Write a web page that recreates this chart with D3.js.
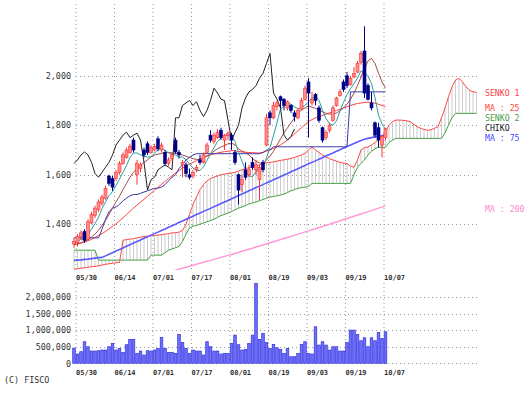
<!DOCTYPE html>
<html>
<head>
<meta charset="utf-8">
<script src="https://cdn.jsdelivr.net/npm/d3@7"></script>
<style>
  body { margin: 0; background: #fff; }
  text { font-family: "DejaVu Sans Mono", monospace; }
</style>
</head>
<body>
<script>
// trading days, 05/29 .. 10/07
const dates = ["05/29","05/30","05/31","06/03","06/04","06/05","06/06","06/07","06/10","06/11","06/12","06/13","06/14","06/17","06/18","06/19","06/20","06/21","06/24","06/25","06/26","06/27","06/28","07/01","07/02","07/03","07/04","07/05","07/08","07/09","07/10","07/11","07/12","07/16","07/17","07/18","07/19","07/22","07/23","07/24","07/25","07/26","07/29","07/30","07/31","08/01","08/02","08/05","08/06","08/07","08/08","08/09","08/13","08/14","08/15","08/16","08/19","08/20","08/21","08/22","08/23","08/26","08/27","08/28","08/29","08/30","09/02","09/03","09/04","09/05","09/06","09/09","09/10","09/11","09/12","09/13","09/17","09/18","09/19","09/20","09/24","09/25","09/26","09/27","09/30","10/01","10/02","10/03","10/04","10/07"];
const tickDays = ["05/30","06/14","07/01","07/17","08/01","08/19","09/03","09/19","10/07"];

const openP = [1320,1325,1350,1370,1340,1405,1435,1460,1485,1505,1595,1585,1585,1610,1645,1670,1690,1740,1600,1625,1700,1725,1690,1700,1745,1700,
  1690,1645,1665,1740,1690,1640,1640,1600,1595,1620,1660,1650,1690,1760,1735,1750,1780,1740,1760,1760,1690,1600,1560,1620,1600,1650,1620,1580,1650,1720,
  1850,1830,1875,1915,1905,1870,1880,1850,1830,1865,1905,1975,1890,1925,1870,1790,1750,1780,1820,1880,1920,1975,2000,1965,1995,2015,2055,2100,1960,1890,
  1810,1790,1720,1750];
const highP = [1345,1360,1375,1380,1420,1450,1475,1500,1520,1555,1600,1595,1620,1655,1690,1710,1725,1750,1660,1650,1710,1735,1720,1725,1755,1730,
  1700,1670,1690,1750,1700,1660,1650,1625,1620,1640,1680,1690,1730,1780,1770,1785,1790,1765,1775,1770,1700,1605,1600,1650,1640,1670,1660,1640,1660,1845,
  1860,1895,1900,1920,1910,1900,1885,1860,1870,1910,1960,1990,1935,1930,1880,1795,1780,1810,1880,1915,1945,1985,2015,2000,2035,2060,2100,2200,1970,1935,
  1815,1810,1760,1790];
const lowP = [1305,1310,1335,1325,1335,1400,1425,1450,1475,1500,1555,1535,1575,1600,1640,1665,1685,1690,1560,1610,1670,1680,1685,1695,1695,1690,
  1635,1635,1655,1685,1665,1590,1590,1580,1585,1610,1640,1645,1685,1730,1725,1745,1740,1700,1740,1700,1640,1480,1530,1580,1590,1620,1600,1497,1610,1715,
  1800,1825,1860,1870,1860,1860,1850,1815,1825,1860,1900,1750,1880,1880,1810,1730,1740,1770,1815,1875,1915,1935,1950,1960,1990,2010,2045,1910,1900,1860,
  1750,1710,1670,1740];
const closeP = [1330,1350,1365,1335,1410,1440,1465,1490,1510,1545,1565,1550,1610,1645,1680,1700,1715,1700,1645,1640,1680,1690,1710,1715,1705,1720,
  1645,1660,1680,1692,1680,1650,1605,1590,1610,1630,1650,1680,1720,1740,1760,1772,1750,1760,1768,1740,1650,1538,1580,1590,1620,1630,1640,1630,1620,1830,
  1830,1880,1890,1900,1880,1895,1860,1835,1860,1900,1950,1930,1905,1900,1820,1740,1770,1800,1870,1910,1935,1945,1960,1990,2010,2050,2090,1930,1905,1870,
  1760,1740,1755,1785];
const volume = [460000,280000,350000,650000,500000,370000,370000,380000,400000,400000,500000,600000,400000,450000,330000,560000,720000,720000,300000,370000,250000,380000,370000,400000,450000,780000,450000,330000,330000,300000,870000,630000,450000,300000,400000,370000,370000,250000,650000,500000,370000,370000,280000,300000,300000,600000,850000,560000,400000,420000,600000,850000,2410000,720000,900000,630000,450000,570000,470000,420000,300000,450000,200000,200000,300000,570000,650000,300000,280000,1100000,550000,650000,550000,400000,500000,500000,370000,370000,630000,1000000,1000000,870000,680000,770000,500000,770000,680000,930000,750000,950000];

const ma5 = [1325,1330,1340,1340,1360,1380,1403,1428,1463,1490,1515,1532,1556,1583,1610,1637,1670,1688,1688,1680,1676,1671,1673,1687,1700,1708,
  1699,1689,1682,1679,1671,1672,1661,1643,1627,1617,1617,1632,1658,1684,1710,1734,1748,1756,1762,1758,1734,1691,1655,1620,1596,1592,1612,1622,1628,1670,
  1710,1758,1810,1866,1876,1889,1885,1874,1866,1870,1881,1895,1909,1917,1901,1859,1827,1806,1800,1818,1857,1892,1924,1948,1968,1991,2020,2014,1997,1969,
  1911,1841,1806,1782];
const ma13 = [1318,1320,1325,1330,1338,1348,1360,1375,1395,1415,1440,1465,1490,1513,1540,1565,1590,1610,1625,1638,1650,1660,1672,1680,1683,1686,1690,1690,1688,1686,1684,1680,1675,1670,1665,1662,1662,1668,1676,1685,1695,1705,1712,1718,1725,1728,1720,1705,1695,1690,1680,1665,1655,1648,1645,1660,1675,1695,1720,1745,1770,1790,1810,1830,1850,1862,1870,1878,1873,1868,1860,1855,1848,1845,1845,1850,1858,1870,1885,1905,1930,1960,1995,2030,2060,2070,2050,2010,1975,1950];
const ma25 = [1316,1320,1324,1328,1333,1339,1346,1354,1362,1371,1381,1391,1402,1414,1426,1439,1452,1465,1477,1489,1501,1513,1525,1537,1549,1561,1573,1585,1596,1607,1617,1627,1635,1643,1650,1657,1664,1670,1675,1680,1684,1688,1691,1693,1695,1697,1697,1694,1692,1691,1690,1689,1688,1688,1690,1695,1700,1707,1713,1720,1730,1740,1752,1765,1778,1790,1803,1815,1823,1830,1835,1840,1845,1850,1855,1860,1865,1870,1875,1880,1884,1888,1890,1892,1893,1892,1889,1885,1880,1875];
const ma75 = [1254,1255,1256,1258,1259,1261,1263,1265,1266,1272,1279,1285,1292,1298,1304,1311,1317,1324,1330,1336,1343,1349,1356,1362,1368,1375,1381,1388,1394,1400,1407,1413,1420,1426,1432,1439,1445,1452,1458,1464,1471,1477,1484,1490,1496,1503,1509,1516,1522,1528,1535,1541,1548,1554,1560,1567,1573,1580,1586,1592,1599,1605,1612,1618,1624,1631,1637,1644,1650,1656,1663,1669,1676,1682,1688,1695,1701,1708,1714,1720,1726,1732,1738,1743,1747,1750,1753,1755,1757,1758];
const ma200 = [1098,1102,1106,1110,1114,1118,1122,1126,1130,1134,1138,1142,1146,1150,1154,1158,1162,1166,1170,1174,1178,1182,1186,1190,1194,1198,1202,1206,1210,1214,1218,1222,1226,1230,1234,1238,1242,1246,1250,1254,1258,1262,1266,1270,1274,1278,1282,1286,1291,1295,1299,1303,1308,1312,1316,1320,1325,1329,1333,1338,1342,1346,1351,1355,1360,1364,1369,1373,1378,1382,1387,1391,1396,1400,1405,1409,1414,1419,1423,1428,1432,1437,1441,1446,1451,1455,1460,1465,1469,1474];
const tenkan = [1345,1345,1345,1345,1345,1345,1345,1345,1380,1420,1450,1465,1470,1480,1495,1505,1515,1520,1520,1525,1530,1535,1540,1545,1546,1550,1560,1575,1590,1600,1625,1640,1660,1670,1680,1685,1685,1685,1685,1685,1685,1685,1685,1685,1685,1685,1685,1685,1685,1685,1685,1685,1685,1685,1690,1700,1700,1713,1713,1713,1713,1713,1713,1713,1713,1713,1713,1713,1713,1713,1713,1713,1713,1713,1713,1713,1713,1713,1713,1935,1935,1935,1935,1935,1935,1935,1935,1935,1935,1935];
// leading spans run 26 days past the last bar
const senko1 = [1218,1220,1222,1224,1226,1228,1230,1232,1235,1238,1240,1242,1244,1246,1335,1338,1340,1342,1345,1348,1350,1352,1354,1355,1356,1358,1360,1362,1365,1366,1368,1375,1400,1440,1480,1510,1540,1560,1575,1585,1590,1595,1600,1603,1605,1607,1610,1615,1620,1625,1628,1630,1635,1640,1645,1648,1650,1652,1655,1658,1660,1663,1666,1670,1675,1680,1687,1700,1712,1700,1690,1680,1672,1665,1660,1655,1650,1647,1645,1635,1630,1660,1700,1710,1712,1720,1730,1740,1755,1774,1800,1815,1821,1821,1820,1818,1815,1805,1794,1788,1783,1780,1782,1788,1794,1830,1870,1915,1955,1983,1990,1975,1955,1942,1935,1933];
const senko2 = [1295,1295,1295,1295,1295,1295,1295,1255,1255,1255,1255,1255,1255,1255,1255,1255,1255,1255,1255,1255,1255,1255,1275,1275,1275,1275,1285,1295,1300,1305,1310,1330,1360,1385,1392,1395,1400,1405,1410,1415,1420,1428,1435,1440,1445,1451,1458,1465,1470,1475,1482,1486,1490,1495,1500,1505,1510,1512,1515,1518,1522,1528,1535,1540,1545,1548,1550,1552,1565,1565,1565,1565,1565,1565,1565,1565,1565,1565,1565,1565,1600,1630,1646,1660,1680,1695,1705,1711,1711,1711,1730,1740,1747,1747,1747,1747,1747,1747,1747,1747,1747,1747,1747,1747,1747,1747,1770,1800,1830,1848,1848,1848,1848,1848,1848,1848];

const priceTicks = [1400, 1600, 1800, 2000];
const volTicks = [0, 500000, 1000000, 1500000, 2000000];

const W = 531, H = 396;
const svg = d3.select("body").append("svg").attr("width", W).attr("height", H);

const x = d3.scaleLinear().domain([0, 115]).range([74, 74 + 3.5 * 115]);
const y = d3.scaleLinear().domain([1215, 2290]).range([270, 4]);
const vy = d3.scaleLinear().domain([0, 2420000]).range([363.3, 283]);

const gridColor = "#999";
const plotRight = x(115) + 1.5;
const tickIdx = tickDays.map(d => dates.indexOf(d));

svg.append("defs").append("clipPath").attr("id", "plot")
  .append("rect").attr("x", 70).attr("y", 4).attr("width", plotRight - 70).attr("height", 266);

// dotted grids
function grid(g, top, bottom, yTicks, ys) {
  g.selectAll(".vg").data(tickIdx).enter().append("line")
    .attr("x1", k => x(k) - 1.5).attr("x2", k => x(k) - 1.5)
    .attr("y1", top).attr("y2", bottom)
    .attr("stroke", gridColor).attr("stroke-dasharray", "1,3");
  g.selectAll(".hg").data(yTicks).enter().append("line")
    .attr("x1", x(1) - 1.5).attr("x2", plotRight)
    .attr("y1", d => Math.round(ys(d)) + 0.5).attr("y2", d => Math.round(ys(d)) + 0.5)
    .attr("stroke", gridColor).attr("stroke-dasharray", "1,3");
}
grid(svg.append("g"), 4, 271, priceTicks, y);
grid(svg.append("g"), 283, 363, volTicks, vy);

// axis labels
const yAxis = d3.axisLeft(y).tickValues(priceTicks).tickSize(0).tickPadding(3).tickFormat(d3.format(","));
svg.append("g").attr("transform", "translate(74,0)").call(yAxis)
  .call(g => g.select(".domain").remove())
  .selectAll("text").attr("font-family", "DejaVu Sans Mono").attr("font-size", 8.4).attr("fill", "#333");

const vAxis = d3.axisLeft(vy).tickValues(volTicks).tickSize(0).tickPadding(3).tickFormat(d3.format(","));
svg.append("g").attr("transform", "translate(74,0)").call(vAxis)
  .call(g => g.select(".domain").remove())
  .selectAll("text").attr("font-family", "DejaVu Sans Mono").attr("font-size", 8.4).attr("fill", "#333");

[279.5, 374.5].forEach(yy => {
  svg.append("g").selectAll("text").data(tickIdx).enter().append("text")
    .attr("x", k => x(k) - 1.5).attr("y", yy)
    .attr("font-size", 7).attr("font-weight", "bold").attr("fill", "#333")
    .text(k => dates[k]);
});

const plot = svg.append("g").attr("clip-path", "url(#plot)");

// cloud hatch
plot.append("g").selectAll("line").data(senko1).enter().append("line")
  .attr("x1", (d, k) => x(k)).attr("x2", (d, k) => x(k))
  .attr("y1", d => y(d)).attr("y2", (d, k) => y(senko2[k]))
  .attr("stroke", "#b4b4b4").attr("stroke-width", 0.7);

const line = d3.line().x((d, k) => x(k)).y(d => y(d));
function drawLine(values, color, width) {
  plot.append("path").datum(values).attr("d", line)
    .attr("fill", "none").attr("stroke", color).attr("stroke-width", width);
}
drawLine(senko2, "#44a044", 1);
drawLine(senko1, "#ff4848", 1);
drawLine(ma200, "#ff99d6", 1.5);
drawLine(ma75, "#5a5aff", 1.6);
drawLine(ma25, "#ff4040", 1);
drawLine(ma13, "#a84848", 1);
drawLine(tenkan, "#3a3aa8", 1);
drawLine(ma5, "#28a0a0", 1);
drawLine(closeP.slice(26), "#222", 1); // chiko: close plotted 26 days back

// candles
const candles = plot.append("g").selectAll("g").data(closeP).enter().append("g");
candles.append("line")
  .attr("x1", (d, k) => x(k)).attr("x2", (d, k) => x(k))
  .attr("y1", (d, k) => y(highP[k])).attr("y2", (d, k) => y(lowP[k]))
  .attr("stroke", (d, k) => d >= openP[k] ? "#ff3030" : "#000088");
candles.append("rect")
  .attr("x", (d, k) => x(k) - 1.5).attr("width", 3)
  .attr("y", (d, k) => y(Math.max(d, openP[k])))
  .attr("height", (d, k) => Math.max(1, Math.abs(y(d) - y(openP[k]))))
  .attr("fill", (d, k) => d >= openP[k] ? "#ff8c8c" : "#000088")
  .attr("stroke", (d, k) => d >= openP[k] ? "#ff3030" : "#000088")
  .attr("stroke-width", 0.6);

// volume
svg.append("g").selectAll("rect").data(volume).enter().append("rect")
  .attr("x", (d, k) => x(k) - 1.3).attr("width", 2.6)
  .attr("y", d => vy(d)).attr("height", d => vy(0) - vy(d))
  .attr("fill", "#6f6fff").attr("stroke", "#3434d8").attr("stroke-width", 0.7);

// right-hand legend
const labels = [
  ["SENKO 1", 96, "#ff4040"],
  ["MA : 25", 111, "#ff4848"],
  ["SENKO 2", 120.5, "#44a044"],
  ["CHIKO", 131, "#111"],
  ["MA : 75", 140.5, "#4a4aff"],
  ["MA : 200", 212, "#ff88cc"]
];
svg.append("g").selectAll("text").data(labels).enter().append("text")
  .attr("x", 485).attr("y", d => d[1])
  .attr("font-size", 8.2).attr("fill", d => d[2])
  .text(d => d[0]);

svg.append("text").attr("x", 4).attr("y", 383).attr("font-size", 8.4).attr("fill", "#333").text("(C) FISCO");
</script>
</body>
</html>
